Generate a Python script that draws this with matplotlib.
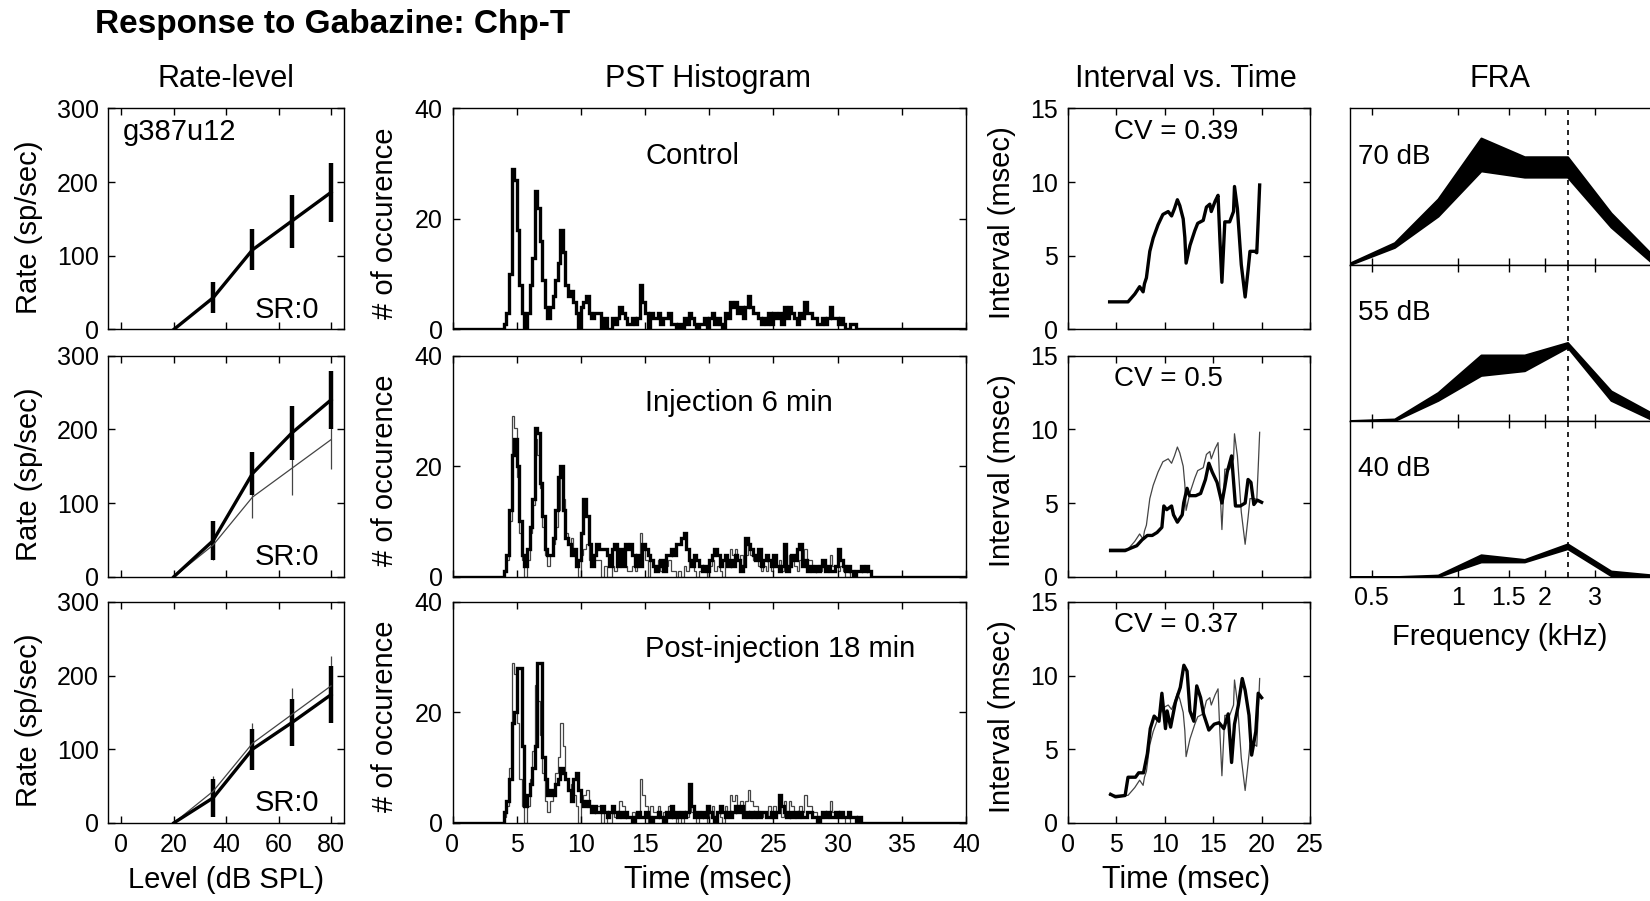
import numpy as np
import matplotlib
matplotlib.use("Agg")
import matplotlib.pyplot as plt

# ── data ──────────────────────────────────────────────────────────────────────
LEVELS = [20, 35, 50, 65, 80]
RATE_CONTROL = [0, 43, 108, 147, 186]
ERR_CONTROL = [0, 21, 28, 36, 40]
RATE_INJ = [0, 49, 140, 195, 240]
ERR_INJ = [0, 26, 29, 37, 39]
RATE_POST = [0, 34, 100, 136, 174]
ERR_POST = [0, 26, 28, 32, 39]

# PST histogram, 0.2 ms bins starting at 3.8 ms
PST_START = 3.8
PST_BIN = 0.2
PST_CONTROL = [
    0, 1, 3, 10, 29, 27, 18, 8, 3, 0,
    3, 8, 13, 25, 22, 16, 9, 4, 2, 4,
    6, 9, 12, 18, 14, 8, 6, 7, 5, 3,
    0, 4, 5, 6, 3, 2, 3, 3, 3, 0,
    2, 0, 0, 2, 1, 2, 4, 3, 2, 1,
    1, 2, 1, 2, 8, 5, 3, 0, 3, 2,
    2, 3, 1, 2, 2, 3, 1, 1, 0, 1,
    0, 2, 1, 3, 2, 1, 0, 1, 1, 2,
    0, 2, 3, 1, 2, 1, 0, 3, 2, 5,
    4, 5, 3, 4, 2, 4, 6, 4, 3, 3,
    2, 1, 2, 1, 3, 1, 3, 2, 3, 1,
    4, 2, 4, 3, 2, 1, 3, 2, 5, 3,
    3, 2, 2, 1, 1, 2, 1, 2, 4, 2,
    2, 1, 2, 1, 0, 0, 1, 1, 0, 0,
    0, 0, 0, 0, 0, 0, 0, 0, 0, 0,
]
PST_INJ = [
    0, 1, 4, 12, 22, 25, 20, 10, 4, 2,
    5, 9, 14, 27, 26, 17, 11, 5, 4, 4,
    7, 12, 18, 20, 12, 7, 6, 4, 5, 2,
    3, 8, 14, 11, 6, 2, 4, 6, 5, 5,
    5, 4, 2, 5, 6, 2, 5, 2, 6, 5,
    6, 4, 2, 4, 2, 6, 5, 4, 3, 2,
    1, 2, 3, 1, 4, 4, 5, 4, 6, 6,
    7, 8, 5, 3, 2, 4, 3, 2, 1, 2,
    1, 3, 4, 5, 4, 2, 3, 4, 2, 3,
    2, 4, 3, 1, 2, 7, 6, 5, 4, 3,
    5, 2, 3, 4, 3, 2, 4, 2, 1, 2,
    6, 1, 2, 4, 3, 5, 6, 2, 3, 1,
    2, 1, 2, 1, 2, 3, 1, 2, 1, 1,
    2, 5, 3, 2, 1, 2, 1, 0, 1, 1,
    2, 1, 2, 1, 0, 0, 0, 0, 0, 0,
]
PST_POST = [
    0, 2, 4, 8, 18, 20, 28, 28, 14, 3,
    5, 7, 10, 14, 29, 29, 12, 8, 5, 6,
    5, 7, 8, 10, 9, 8, 6, 4, 8, 9,
    6, 4, 3, 4, 3, 2, 3, 2, 2, 3,
    2, 1, 2, 3, 2, 1, 2, 1, 2, 1,
    1, 0, 1, 2, 1, 1, 2, 1, 0, 1,
    1, 2, 1, 0, 2, 1, 3, 1, 2, 1,
    2, 1, 2, 7, 3, 1, 2, 1, 2, 1,
    3, 2, 1, 0, 2, 3, 2, 1, 2, 1,
    2, 3, 2, 3, 1, 2, 1, 2, 1, 2,
    1, 2, 2, 1, 1, 2, 1, 2, 5, 3,
    2, 1, 2, 1, 2, 1, 2, 1, 1, 2,
    2, 1, 1, 0, 1, 2, 1, 2, 1, 1,
    2, 1, 2, 1, 1, 2, 1, 1, 0, 1,
    0, 0, 0, 0, 0, 0, 0, 0, 0, 0,
]

# interval vs. time
ISI_CTRL_T = [4.3, 6.2, 6.9, 7.4, 7.76, 7.9, 8.1, 8.45, 8.8, 9.3, 9.8, 10.35,
              10.7, 11.0, 11.3, 11.55, 11.9, 12.07, 12.2, 12.6, 13.1, 13.4,
              13.97, 14.3, 14.65, 14.8, 15.2, 15.5, 15.7, 15.9, 16.2, 16.7,
              17.1, 17.2, 17.5, 17.9, 18.3, 18.6, 18.8, 19.3, 19.5, 19.65, 19.8]
ISI_CTRL_V = [1.87, 1.87, 2.4, 2.9, 2.55, 3.1, 3.5, 5.3, 6.2, 7.1, 7.8, 8.0,
              7.7, 8.2, 8.8, 8.4, 7.5, 6.25, 4.5, 5.7, 6.7, 7.2,
              7.4, 8.3, 8.5, 8.0, 8.7, 9.1, 6.0, 3.2, 7.3, 7.3,
              8.0, 9.7, 8.2, 4.4, 2.2, 4.0, 5.3, 5.3, 5.2, 7.4, 9.8]
ISI_INJ_T = [4.4, 5.9, 6.6, 7.1, 7.65, 8.2, 8.7, 9.2, 9.7, 9.9, 10.2, 10.7,
             10.9, 11.3, 11.8, 11.95, 12.3, 12.55, 13.2, 13.7, 14.2, 14.55,
             14.9, 15.4, 15.9, 16.2, 16.45, 16.9, 17.3, 17.8, 18.3, 18.6,
             18.9, 19.2, 19.55, 20.0]
ISI_INJ_V = [1.77, 1.77, 1.97, 2.1, 2.5, 2.8, 2.8, 3.0, 3.35, 4.8, 4.55, 4.8,
             4.2, 3.7, 4.2, 5.0, 6.0, 5.5, 5.5, 5.65, 6.6, 7.7,
             7.1, 6.4, 5.0, 6.1, 7.1, 8.2, 4.8, 4.8, 5.0, 6.6,
             6.4, 4.9, 5.2, 5.05]
ISI_POST_T = [4.4, 4.9, 5.9, 6.2, 6.97, 7.3, 7.8, 8.2, 8.5, 8.9, 9.4, 9.7,
              10.07, 10.24, 10.6, 11.1, 11.6, 11.97, 12.3, 12.6, 13.0, 13.3,
              13.7, 14.0, 14.55, 15.1, 15.6, 16.1, 16.55, 16.9, 17.2, 17.6,
              18.0, 18.3, 18.7, 18.97, 19.4, 19.65, 20.0]
ISI_POST_V = [1.94, 1.77, 1.86, 3.1, 3.1, 3.4, 3.4, 4.7, 6.4, 7.25, 6.9, 8.8,
              6.4, 7.6, 6.5, 8.2, 9.2, 10.7, 10.3, 7.6, 6.9, 9.3,
              8.5, 7.4, 6.3, 6.7, 6.8, 6.4, 7.4, 4.1, 6.7, 8.0,
              9.8, 9.0, 7.3, 4.6, 6.2, 8.8, 8.5]
CV_TEXT = ["CV = 0.39", "CV = 0.5", "CV = 0.37"]

# FRA (normalised response band per level)
FRA_FREQ = [0.42, 0.6, 0.85, 1.2, 1.7, 2.4, 3.4, 4.8]
FRA_LEVELS = ["70 dB", "55 dB", "40 dB"]
FRA_LO = [
    [0.0, 0.11, 0.31, 0.60, 0.56, 0.56, 0.24, 0.0],
    [0.0, 0.0, 0.13, 0.29, 0.32, 0.47, 0.13, 0.0],
    [0.0, 0.0, 0.0, 0.095, 0.095, 0.18, 0.007, 0.0],
]
FRA_HI = [
    [0.01, 0.14, 0.42, 0.81, 0.69, 0.69, 0.33, 0.05],
    [0.0, 0.01, 0.18, 0.42, 0.42, 0.50, 0.19, 0.04],
    [0.0, 0.0, 0.01, 0.14, 0.11, 0.21, 0.036, 0.01],
]
CF_KHZ = 2.4

CONDITIONS = ["Control", "Injection 6 min", "Post-injection 18 min"]

# ── style ─────────────────────────────────────────────────────────────────────
plt.rcParams.update({
    "font.family": ["Liberation Sans", "DejaVu Sans"],
    "axes.linewidth": 1.0,
})
TICK_FS = 18
LABEL_FS = 21
TITLE_FS = 22
TEXT_FS = 21
THICK = 2.4
THIN = 0.9
GREY = "#444444"

W, H = 1650, 901
fig = plt.figure(figsize=(W / 100, H / 100), dpi=100)


def px_axes(left, top, right, bottom):
    return fig.add_axes([left / W, 1 - bottom / H, (right - left) / W, (bottom - top) / H])


def style(ax, show_x):
    ax.tick_params(direction="in", top=True, right=True, length=5, width=1,
                   labelsize=TICK_FS, pad=7, labelbottom=show_x)


ROWS = [(108.4, 329.4), (355.7, 576.7), (601.9, 822.9)]

rates = [RATE_CONTROL, RATE_INJ, RATE_POST]
errs = [ERR_CONTROL, ERR_INJ, ERR_POST]
psts = [PST_CONTROL, PST_INJ, PST_POST]
isi_t = [ISI_CTRL_T, ISI_INJ_T, ISI_POST_T]
isi_v = [ISI_CTRL_V, ISI_INJ_V, ISI_POST_V]

edges_core = PST_START + PST_BIN * np.arange(len(PST_CONTROL) + 1)
edges = np.concatenate([[0.0], edges_core, [40.0]])

for i, (top, bot) in enumerate(ROWS):
    last = i == 2
    ymid = 1 - ((top + bot) / 2 + 4) / H
    # rate-level
    ax = px_axes(108.4, top, 344.1, bot)
    if i > 0:
        ax.errorbar(LEVELS, RATE_CONTROL, yerr=ERR_CONTROL, color=GREY, lw=THIN,
                    elinewidth=THIN, capsize=0)
    ax.errorbar(LEVELS, rates[i], yerr=errs[i], color="black", lw=THICK,
                elinewidth=THICK + 0.8, capsize=0)
    ax.set_xlim(-5, 85)
    ax.set_ylim(0, 300)
    ax.set_xticks([0, 20, 40, 60, 80])
    ax.set_yticks([0, 100, 200, 300])
    style(ax, last)
    ax.text(0.62, 0.09, "SR:0", transform=ax.transAxes, fontsize=TEXT_FS, va="center")
    if i == 0:
        ax.text(0.06, 0.895, "g387u12", transform=ax.transAxes, fontsize=TEXT_FS, va="center")
    fig.text(29.5 / W, 1 - ((top + bot) / 2 + 8) / H, "Rate (sp/sec)", rotation=90,
             ha="center", va="center", fontsize=LABEL_FS)

    # PST histogram
    ax = px_axes(452.5, top, 966.0, bot)
    if i > 0:
        ax.stairs(np.concatenate([[0], PST_CONTROL, [0]]), edges, color=GREY, lw=THIN)
    ax.stairs(np.concatenate([[0], psts[i], [0]]), edges, color="black", lw=THICK)
    ax.set_xlim(0, 40)
    ax.set_ylim(0, 40)
    ax.set_xticks(range(0, 41, 5))
    ax.set_yticks([0, 20, 40])
    style(ax, last)
    ax.text(0.375, 0.786, CONDITIONS[i], transform=ax.transAxes, fontsize=TEXT_FS, va="center")
    fig.text(385 / W, ymid, "# of occurence", rotation=90,
             ha="center", va="center", fontsize=LABEL_FS)

    # interval vs time
    ax = px_axes(1068.0, top, 1310.0, bot)
    if i > 0:
        ax.plot(ISI_CTRL_T, ISI_CTRL_V, color=GREY, lw=THIN)
    ax.plot(isi_t[i], isi_v[i], color="black", lw=THICK)
    ax.set_xlim(0, 25)
    ax.set_ylim(0, 15)
    ax.set_xticks(range(0, 26, 5))
    ax.set_yticks([0, 5, 10, 15])
    style(ax, last)
    ax.text(0.19, 0.895, CV_TEXT[i], transform=ax.transAxes, fontsize=TEXT_FS - 1, va="center")
    fig.text(1002 / W, ymid, "Interval (msec)", rotation=90,
             ha="center", va="center", fontsize=LABEL_FS)

# FRA panels
fra_top = 108.4
fra_h = (576.7 - 108.4) / 3
for j in range(3):
    t = fra_top + j * fra_h
    ax = px_axes(1350.0, t, 1654.0, t + fra_h)
    ax.fill_between(FRA_FREQ, FRA_LO[j], FRA_HI[j], facecolor="black",
                    edgecolor="black", lw=1.5)
    ax.axvline(CF_KHZ, color="black", lw=1.2, ls=(0, (3, 3)))
    ax.set_xscale("log")
    ax.set_xlim(0.42, 4.8)
    ax.set_ylim(0, 1)
    ax.set_yticks([])
    ax.set_xticks([0.5, 1, 1.5, 2, 3])
    ax.set_xticklabels(["0.5", "1", "1.5", "2", "3"])
    ax.minorticks_off()
    ax.tick_params(axis="x", direction="in", top=True, length=5, width=1,
                   labelsize=TICK_FS, pad=7, labelbottom=(j == 2))
    ax.text(0.025, 0.69, FRA_LEVELS[j], transform=ax.transAxes, fontsize=TEXT_FS - 1, va="center")

# labels & titles
fig.text(226 / W, 1 - 880 / H, "Level (dB SPL)", ha="center", va="center", fontsize=LABEL_FS)
fig.text(708 / W, 1 - 880 / H, "Time (msec)", ha="center", va="center", fontsize=LABEL_FS + 1)
fig.text(1186 / W, 1 - 880 / H, "Time (msec)", ha="center", va="center", fontsize=LABEL_FS + 1)
fig.text(1500 / W, 1 - 637 / H, "Frequency (kHz)", ha="center", va="center", fontsize=LABEL_FS)

for x, s in [(226, "Rate-level"), (708, "PST Histogram"), (1186, "Interval vs. Time"), (1500, "FRA")]:
    fig.text(x / W, 1 - 79 / H, s, ha="center", va="center", fontsize=TITLE_FS)

fig.text(95 / W, 1 - 33 / H, "Response to Gabazine: Chp-T", ha="left", va="baseline",
         fontsize=24, fontweight="bold")

fig.savefig("out.png", dpi=100, facecolor="white")
